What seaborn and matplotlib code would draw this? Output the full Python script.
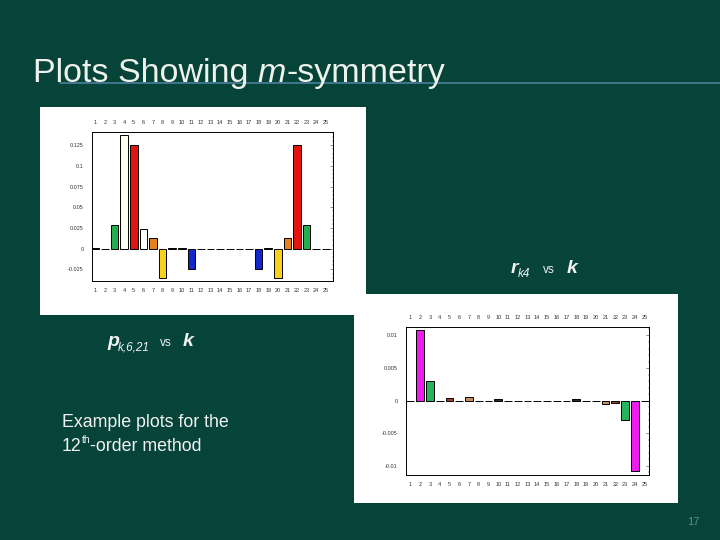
import matplotlib
matplotlib.use("Agg")
import matplotlib.pyplot as plt
import seaborn as sns
import pandas as pd
from matplotlib.patches import Rectangle
from matplotlib.lines import Line2D
from matplotlib.ticker import AutoMinorLocator

sns.set_style("white")
plt.rcParams["font.family"] = ["Liberation Sans", "DejaVu Sans"]

# data
k = list(range(1, 26))
r_k4 = [0.0003, 0.0, 0.0282, 0.137, 0.125, 0.0234, 0.0129, -0.035, 0.0003, 0.0012,
        -0.0246, -0.0005, 0.0, 0.0, 0.0, 0.0, 0.0, -0.0246, 0.0012, -0.035,
        0.0129, 0.125, 0.0282, 0.0, 0.0]
r_colors = ["white", "white", "#22b04e", "#fffff2", "#e3140e", "white", "#e8801c", "#f7d11a", "white", "#62a86c",
            "#1226cc", "black", "white", "white", "white", "white", "white", "#1226cc", "#62a86c", "#f7d11a",
            "#e8801c", "#e3140e", "#22b04e", "white", "white"]
r_yticks = [-0.025, 0, 0.025, 0.05, 0.075, 0.1, 0.125]
r_ylabels = ["-0.025", "0", "0.025", "0.05", "0.075", "0.1", "0.125"]

p_k621 = [0.0, 0.01082, 0.00296, 0.0, 0.00036, 0.0, 0.0005, 0.0, 0.0, 0.0002,
          0.0, 0.0, 0.0, 0.0, 0.0, 0.0, 0.0, 0.0002, 0.0, 0.0,
          -0.0005, -0.00036, -0.00296, -0.0108, 0.0]
p_colors = ["white", "#ee1aee", "#24b45c", "white", "#a2402c", "white", "#c8905c", "white", "white", "#3a2a20",
            "white", "white", "white", "white", "white", "white", "white", "#3a2a20", "white", "white",
            "#c8905c", "#a2402c", "#24b45c", "#ee1aee", "white"]
p_yticks = [-0.01, -0.005, 0, 0.005, 0.01]
p_ylabels = ["-0.01", "-0.005", "0", "0.005", "0.01"]

BG = "#06443a"
W, H = 720, 540


def fx(px):
    return px / W


def fy(py):
    return 1 - py / H


fig = plt.figure(figsize=(7.2, 5.4), dpi=100, facecolor=BG)

# white panels behind the two plots
fig.patches.append(Rectangle((fx(40), fy(315)), fx(366) - fx(40), fy(107) - fy(315),
                             transform=fig.transFigure, facecolor="white", edgecolor="none", zorder=-5))
fig.patches.append(Rectangle((fx(354), fy(503)), fx(678) - fx(354), fy(294) - fy(503),
                             transform=fig.transFigure, facecolor="white", edgecolor="none", zorder=-5))


def bar_panel(rect, vals, colors, yticks, ylabels, ylim, xlim):
    ax = fig.add_axes(rect, zorder=2)
    df = pd.DataFrame({"k": [str(i) for i in k], "v": vals})
    sns.barplot(data=df, x="k", y="v", hue="k", palette=colors, legend=False,
                width=0.8, edgecolor="black", linewidth=0.7, saturation=1, ax=ax)
    ax.set_ylim(*ylim)
    ax.set_xlim(*xlim)
    ax.set_yticks(yticks)
    ax.set_yticklabels(ylabels)
    ax.set_xlabel("")
    ax.set_ylabel("")
    ax.yaxis.set_minor_locator(AutoMinorLocator(5))
    ax.tick_params(axis="both", which="both", labelsize=4, colors="#333333")
    ax.tick_params(axis="x", top=False, bottom=False, labeltop=True, labelbottom=True, pad=1.5)
    ax.tick_params(axis="y", left=False, right=True, direction="in", length=2, width=0.4, pad=6)
    ax.tick_params(axis="y", which="minor", left=False, right=True, direction="in", length=1, width=0.3)
    for s in ax.spines.values():
        s.set_linewidth(0.7)
        s.set_color("black")
        s.set_visible(True)
    ax.set_facecolor("white")
    return ax


bar_panel([fx(92), fy(281), fx(333) - fx(92), fy(132) - fy(281)],
          r_k4, r_colors, r_yticks, r_ylabels, (-0.039, 0.141), (-0.35, 24.75))
bar_panel([fx(406), fy(475), fx(649) - fx(406), fy(327) - fy(475)],
          p_k621, p_colors, p_yticks, p_ylabels, (-0.0114, 0.0113), (-0.45, 24.45))

fig.add_artist(Line2D([fx(60), 1.0], [fy(83), fy(83)], transform=fig.transFigure,
                      color="#4a7f9c", linewidth=1.2))
fig.canvas.draw()
rend = fig.canvas.get_renderer()


def run_text(x0, y0, pieces, color):
    # write text pieces one after another on a line, each with its own style
    x = fx(x0)
    for piece, size, style, dy in pieces:
        t = fig.text(x, fy(y0 + dy), piece, fontsize=size, style=style,
                     color=color, va="baseline", ha="left")
        x = t.get_window_extent(renderer=rend).x1 / W


run_text(33, 82, [("Plots Showing ", 24.5, "normal", 0), ("m", 24.5, "italic", 0),
                  ("-symmetry", 24.5, "normal", 0)], "#eef2ea")

txt = "#f2f2f2"
fig.text(fx(511), fy(273), "r", fontsize=14, style="italic", weight="bold", color=txt, va="baseline")
fig.text(fx(518), fy(277), "k4", fontsize=8.5, style="italic", color=txt, va="baseline")
fig.text(fx(543), fy(273), "vs", fontsize=8.5, color=txt, va="baseline")
fig.text(fx(567), fy(273), "k", fontsize=14, style="italic", weight="bold", color=txt, va="baseline")

fig.text(fx(107), fy(346), "p", fontsize=14, style="italic", weight="bold", color=txt, va="baseline")
fig.text(fx(118), fy(350), "k,6,21", fontsize=8.5, style="italic", color=txt, va="baseline")
fig.text(fx(160), fy(346), "vs", fontsize=8.5, color=txt, va="baseline")
fig.text(fx(183), fy(346), "k", fontsize=14, style="italic", weight="bold", color=txt, va="baseline")

fig.text(fx(62), fy(427), "Example plots for the", fontsize=12.8, color=txt, va="baseline")
run_text(62, 451, [("12", 12.8, "normal", 0), ("th", 7.5, "normal", -8),
                   ("-order method", 12.8, "normal", 0)], txt)

fig.text(fx(687), fy(525), "17", fontsize=8, color="#5b8c96", va="baseline")

fig.savefig("out.png", dpi=100, facecolor=BG)
